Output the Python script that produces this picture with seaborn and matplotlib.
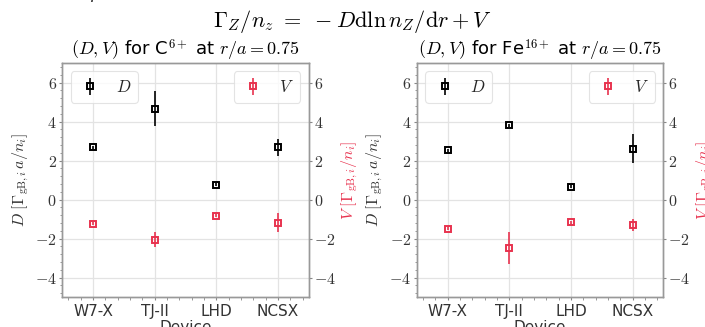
import numpy as np
import pandas as pd
import seaborn as sns
import matplotlib.pyplot as plt
from matplotlib.ticker import AutoMinorLocator

# data
devices = ['W7-X', 'TJ-II', 'LHD', 'NCSX']

c_D = [2.68, 4.66, 0.75, 2.67]
c_D_err = [0.08, 0.89, 0.08, 0.43]
c_V = [-1.25, -2.06, -0.84, -1.19]
c_V_err = [0.08, 0.37, 0.08, 0.48]

fe_D = [2.53, 3.80, 0.66, 2.60]
fe_D_err = [0.08, 0.08, 0.08, 0.75]
fe_V = [-1.50, -2.49, -1.16, -1.31]
fe_V_err = [0.08, 0.84, 0.08, 0.30]

titles = [r'$(D,V)$ for C$^{6+}$ at $r/a=0.75$',
          r'$(D,V)$ for Fe$^{16+}$ at $r/a=0.75$']

red = '#e8334f'
grey = '#333333'

sns.set_theme(style='whitegrid')
plt.rcParams['font.family'] = ['DejaVu Sans']
plt.rcParams['mathtext.fontset'] = 'cm'

fig = plt.figure(figsize=(7.05, 3.27), dpi=100)

# partly cut-off line of text above the figure
fig.text(-0.004, 1.02, 'associated potential', fontsize=12, style='italic',
         va='center', ha='left', color='#222222')
fig.text(0.5, 0.935, r'$\Gamma_Z/n_z\ =\ -D\mathrm{d}\ln n_Z/\mathrm{d}r + V$',
         fontsize=16, ha='center', va='center', color='black')

panels = [
    (0.0884, c_D, c_D_err, c_V, c_V_err),
    (0.5915, fe_D, fe_D_err, fe_V, fe_V_err),
]

for i, (x0, D, D_err, V, V_err) in enumerate(panels):
    df = pd.DataFrame({'device': devices, 'D': D, 'D_err': D_err,
                       'V': V, 'V_err': V_err})
    ax = fig.add_axes([x0, 0.0917, 0.3495, 0.7156])
    ax2 = ax.twinx()

    ax.errorbar(df['device'], df['D'], yerr=df['D_err'], fmt='s', color='black',
                mfc='none', mec='black', ms=5, mew=1.4, elinewidth=1.2,
                capsize=0, label='$D$', zorder=3)
    ax2.errorbar(df['device'], df['V'], yerr=df['V_err'], fmt='s', color=red,
                 mfc='none', mec=red, ms=5, mew=1.4, elinewidth=1.2,
                 capsize=0, label='$V$', zorder=3)

    for a in (ax, ax2):
        a.set_ylim(-5, 7)
        a.set_xlim(-0.5, 3.5)
        a.set_yticks(np.arange(-4, 7, 2))
        a.set_yticklabels([f'${v}$' for v in range(-4, 7, 2)])
    ax2.grid(False)
    ax.grid(True, color='#e3e3e3', linewidth=0.9)

    ax.yaxis.set_minor_locator(AutoMinorLocator(5))
    ax.xaxis.set_minor_locator(AutoMinorLocator(5))
    ax.tick_params(axis='both', which='major', direction='out', length=2.5,
                   width=0.8, color='#888888', labelsize=11.5, labelcolor=grey,
                   left=True, bottom=True, pad=1.5)
    ax.tick_params(axis='both', which='minor', direction='out', length=1.8,
                   width=0.6, color='#888888', left=True, bottom=True)
    ax.tick_params(axis='x', labelsize=11, pad=2.5)
    ax2.tick_params(axis='y', which='major', direction='out', length=2.5,
                    width=0.8, color='#888888', labelsize=11.5, labelcolor=grey,
                    right=True, pad=1)

    for a in (ax, ax2):
        for s in a.spines.values():
            s.set_color('#999999')
            s.set_linewidth(1.0)

    ax.set_ylabel(r'$D\ [\Gamma_{\mathrm{gB},i}\,a/n_i]$', fontsize=11.5,
                  color=grey, labelpad=3)
    ax2.set_ylabel(r'$V\ [\Gamma_{\mathrm{gB},i}/n_i]$', fontsize=11.5,
                   color=red, labelpad=3)
    ax.set_xlabel('Device', fontsize=11, color=grey, labelpad=1)
    ax.set_title(titles[i], fontsize=13, color='black', pad=4)

    leg1 = ax.legend(loc='upper left', fontsize=12, handlelength=1.5,
                     borderpad=0.4, frameon=True)
    leg2 = ax2.legend(loc='upper right', fontsize=12, handlelength=1.5,
                      borderpad=0.4, frameon=True)
    for leg in (leg1, leg2):
        leg.get_frame().set_edgecolor('#dddddd')
        leg.get_frame().set_linewidth(0.8)

fig.savefig('out.png', dpi=100)
